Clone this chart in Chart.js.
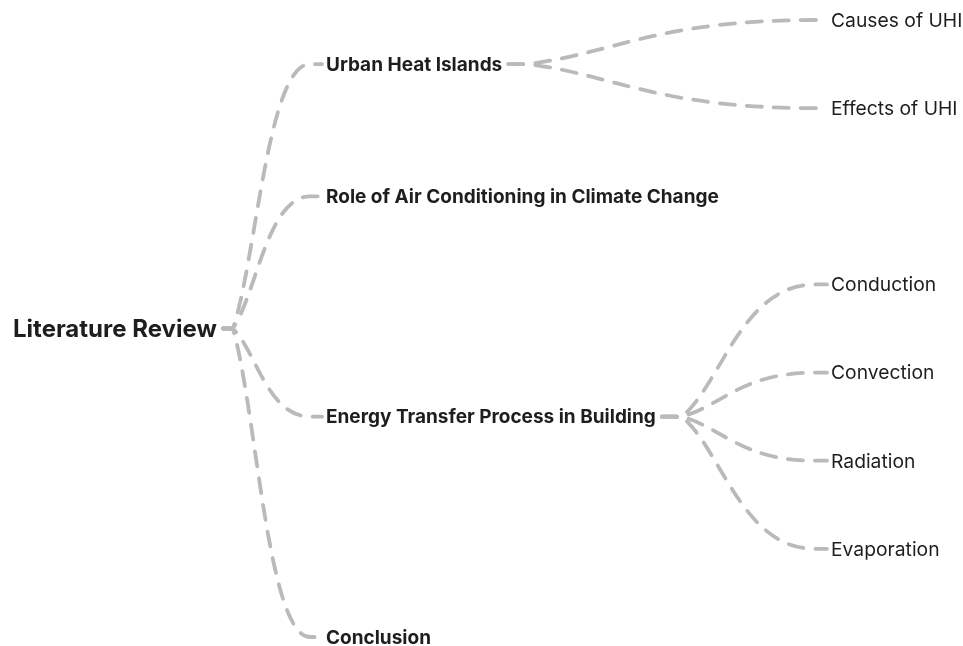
<!DOCTYPE html>
<html lang="en">
  <head>
    <meta charset="UTF-8" />
    <title>Literature Review</title>
    <script src="https://cdn.jsdelivr.net/npm/chart.js"></script>
    <style>
      body {
        margin: 0;
        background: #fff;
      }
      .wrap {
        width: 963px;
        height: 646px;
      }
    </style>
  </head>
  <body>
    <div class="wrap"><canvas id="mindmap"></canvas></div>

    <script>
      // tree data: names and the index of each node's parent
      const nodeNames = [
        "Literature Review",
        "Urban Heat Islands",
        "Causes of UHI",
        "Effects of UHI",
        "Role of Air Conditioning in Climate Change",
        "Energy Transfer Process in Building",
        "Conduction",
        "Convection",
        "Radiation",
        "Evaporation",
        "Conclusion",
      ];
      const nodeParents = [-1, 0, 1, 1, 0, 0, 5, 5, 5, 5, 0];

      // layout / style
      const colX = [13, 326, 831];
      const fonts = [
        "700 24px Inter",
        "700 19px Inter",
        "400 19.3px Inter",
      ];
      const forkGap = [16, 26];
      const lineColor = "#bababa";
      const textColor = "#1e1e1e";

      // depth and vertical slot (leaves evenly spaced, parents centred)
      const depth = nodeNames.map((_, i) => {
        let d = 0, p = nodeParents[i];
        while (p >= 0) { d++; p = nodeParents[p]; }
        return d;
      });
      const slot = [];
      let leafCount = 0;
      function place(i) {
        const kids = nodeParents.map((p, k) => (p === i ? k : -1)).filter((k) => k >= 0);
        if (!kids.length) { slot[i] = leafCount++; return; }
        kids.forEach(place);
        slot[i] = kids.reduce((s, k) => s + slot[k], 0) / kids.length;
      }
      place(0);

      const points = nodeNames.map((_, i) => ({ x: colX[depth[i]], y: slot[i] }));

      const treePlugin = {
        id: "tree",
        beforeDatasetsDraw(chart) {
          const ctx = chart.ctx;
          const meta = chart.getDatasetMeta(0);
          ctx.save();
          ctx.strokeStyle = lineColor;
          ctx.lineWidth = 3.8;
          ctx.lineCap = "round";
          ctx.setLineDash([15, 12]);
          nodeNames.forEach((_, i) => {
            const p = nodeParents[i];
            if (p < 0) return;
            ctx.font = fonts[depth[p]];
            const pe = meta.data[p];
            const ce = meta.data[i];
            const x0 = pe.x + ctx.measureText(nodeNames[p]).width + 6;
            const fx = x0 + forkGap[depth[p]] - 6;
            const y0 = pe.y;
            const x1 = ce.x - 16;
            const y1 = ce.y;
            const dx = x1 - fx, dy = y1 - y0;
            ctx.beginPath();
            ctx.moveTo(x0, y0);
            ctx.lineTo(fx, y0);
            ctx.bezierCurveTo(fx + dx * 0.3, y0 + dy * 0.25, fx + dx * 0.45, y1, x1, y1);
            ctx.lineTo(ce.x - 4, y1);
            ctx.stroke();
          });
          ctx.restore();
        },
        afterDatasetsDraw(chart) {
          const ctx = chart.ctx;
          const meta = chart.getDatasetMeta(0);
          ctx.save();
          ctx.fillStyle = textColor;
          ctx.textBaseline = "middle";
          ctx.textAlign = "left";
          nodeNames.forEach((name, i) => {
            const el = meta.data[i];
            ctx.font = fonts[depth[i]];
            ctx.fillText(name, el.x, el.y + 1);
          });
          ctx.restore();
        },
      };

      new Chart(document.getElementById("mindmap"), {
        type: "scatter",
        data: {
          datasets: [
            {
              data: points,
              pointRadius: 0,
              pointHoverRadius: 0,
            },
          ],
        },
        options: {
          responsive: true,
          maintainAspectRatio: false,
          animation: false,
          events: [],
          layout: { padding: 0 },
          plugins: { legend: { display: false }, tooltip: { enabled: false } },
          scales: {
            x: { type: "linear", display: false, min: 0, max: 963 },
            y: { type: "linear", display: false, reverse: true, min: -0.227, max: 7.102 },
          },
        },
        plugins: [treePlugin],
      });
    </script>
  </body>
</html>
